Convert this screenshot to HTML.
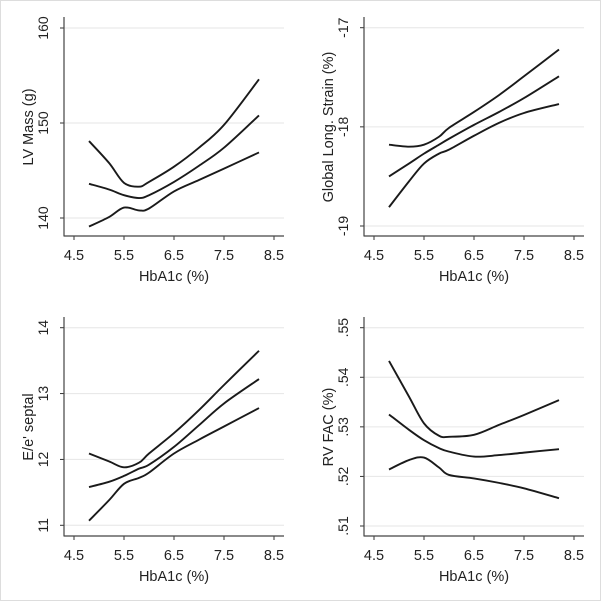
<!DOCTYPE html>
<html><head><meta charset="utf-8"><style>
html,body{margin:0;padding:0;background:#fff}
svg{display:block}
text{font-family:"Liberation Sans",sans-serif;fill:#222}
</style></head><body>
<svg id="c" width="601" height="601" viewBox="0 0 601 601">
<rect x="0.5" y="0.5" width="600" height="600" fill="#fff" stroke="#ddd"/>
</svg>
<script>
const xCats=[4.8,5.2,5.5,5.8,6,6.5,7,7.5,8.2];
const lvUpper=[148.1,145.8,143.7,143.3,143.8,145.4,147.4,149.8,154.6];
const lvMid=[143.6,143.0,142.4,142.1,142.4,143.8,145.5,147.4,150.8];
const lvLower=[139.1,140.1,141.1,140.8,141.0,142.8,144.0,145.2,146.9];
const glsUpper=[-18.18,-18.20,-18.18,-18.10,-18.01,-17.85,-17.68,-17.49,-17.22];
const glsMid=[-18.50,-18.37,-18.27,-18.18,-18.12,-17.98,-17.85,-17.71,-17.49];
const glsLower=[-18.81,-18.55,-18.37,-18.27,-18.23,-18.09,-17.96,-17.86,-17.77];
const eeUpper=[12.09,11.97,11.88,11.95,12.09,12.40,12.75,13.13,13.65];
const eeMid=[11.58,11.66,11.75,11.86,11.92,12.19,12.52,12.85,13.22];
const eeLower=[11.07,11.38,11.63,11.72,11.80,12.09,12.30,12.50,12.78];
const rvUpper=[.5433,.5361,.5307,.5282,.5280,.5284,.5304,.5324,.5354];
const rvMid=[.5325,.5294,.5273,.5257,.5250,.5240,.5243,.5248,.5255];
const rvLower=[.5214,.5233,.5238,.5218,.5203,.5196,.5187,.5176,.5156];
const xTicks=[4.5,5.5,6.5,7.5,8.5];
const xTickLabels=["4.5","5.5","6.5","7.5","8.5"];
const lvTicks=[140,150,160], lvTickLabels=["140","150","160"];
const glsTicks=[-19,-18,-17], glsTickLabels=["-19","-18","-17"];
const eeTicks=[11,12,13,14], eeTickLabels=["11","12","13","14"];
const rvTicks=[.51,.52,.53,.54,.55], rvTickLabels=[".51",".52",".53",".54",".55"];

const NS="http://www.w3.org/2000/svg";
const svg=document.getElementById('c');
function el(tag,attrs,parent){const e=document.createElementNS(NS,tag);for(const k in attrs)e.setAttribute(k,attrs[k]);(parent||svg).appendChild(e);return e;}
function smooth(pts){let d=`M${pts[0][0]},${pts[0][1]}`;for(let i=0;i<pts.length-1;i++){const p0=pts[i-1]||pts[i],p1=pts[i],p2=pts[i+1],p3=pts[i+2]||p2;const c1=[p1[0]+(p2[0]-p0[0])/6,p1[1]+(p2[1]-p0[1])/6],c2=[p2[0]-(p3[0]-p1[0])/6,p2[1]-(p3[1]-p1[1])/6];d+=` C${c1[0]},${c1[1]} ${c2[0]},${c2[1]} ${p2[0]},${p2[1]}`;}return d;}

function panel(ox,oy,name,title,yTicks,yLabels,yMinV,yMinPx,yMaxV,yMaxPx,series){
  const g=el('g',{transform:`translate(${ox},${oy})`});
  
  
  const xs=v=>74+(v-4.5)*50;
  const ys=v=>yMinPx+(v-yMinV)*(yMaxPx-yMinPx)/(yMaxV-yMinV);
  yTicks.forEach((t,i)=>{
    const y=ys(t);
    const gl=el('line',{x1:64,x2:284,y1:y,y2:y,stroke:'#e6e6e6','stroke-width':1},g);
    
    
    el('line',{x1:60,x2:64,y1:y,y2:y,stroke:'#333','stroke-width':1},g);
    const tx=el('text',{x:48,y:y,'font-size':14,'text-anchor':'middle',transform:`rotate(-90 48 ${y})`},g);
    tx.textContent=yLabels[i];
    
    
  });
  xTicks.forEach((t,i)=>{
    const x=xs(t);
    el('line',{x1:x,x2:x,y1:236,y2:240,stroke:'#333','stroke-width':1},g);
    const tx=el('text',{x:x,y:260,'font-size':14.5,'text-anchor':'middle'},g);
    tx.textContent=xTickLabels[i];
    
    
  });
  el('line',{x1:64,x2:64,y1:17,y2:236.5,stroke:'#444','stroke-width':1.2},g);
  el('line',{x1:64,x2:284,y1:236,y2:236,stroke:'#444','stroke-width':1.2},g);
  const xt=el('text',{x:174,y:281,'font-size':14.5,'text-anchor':'middle'},g);
  xt.textContent='HbA1c (%)';
  
  
  const yt=el('text',{x:33,y:127,'font-size':14.5,'text-anchor':'middle',transform:'rotate(-90 33 127)'},g);
  yt.textContent=title;
  
  
  ['upper-ci','fit','lower-ci'].forEach((nm,k)=>{
    const pts=xCats.map((x,i)=>[xs(x),ys(series[k][i])]);
    const p=el('path',{d:smooth(pts),fill:'none',stroke:'#1a1a1a','stroke-width':1.9},g);
    
    
  });
}
panel(0,0,'lv-mass','LV Mass (g)',lvTicks,lvTickLabels,140,218,160,28,[lvUpper,lvMid,lvLower]);
panel(300,0,'gls','Global Long. Strain (%)',glsTicks,glsTickLabels,-19,226,-17,27.7,[glsUpper,glsMid,glsLower]);
panel(0,300,'ee-septal',"E/e' septal",eeTicks,eeTickLabels,11,225.3,14,27.7,[eeUpper,eeMid,eeLower]);
panel(300,300,'rv-fac','RV FAC (%)',rvTicks,rvTickLabels,.51,226,.55,27.7,[rvUpper,rvMid,rvLower]);
</script>
</body></html>
